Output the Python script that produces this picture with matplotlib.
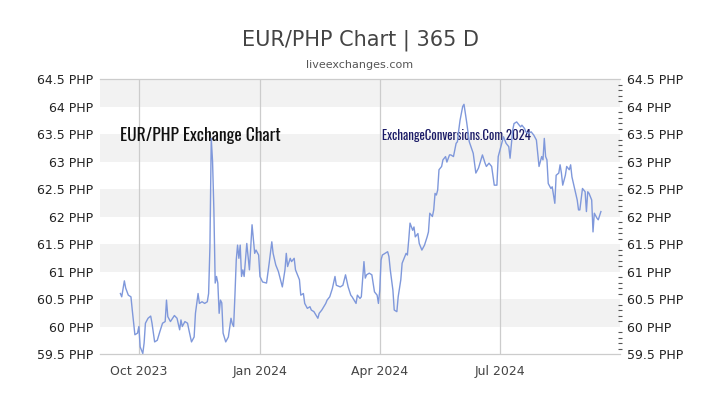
import matplotlib
matplotlib.use("Agg")
import matplotlib.pyplot as plt
from matplotlib.ticker import MultipleLocator
import pandas as pd

# --- data -------------------------------------------------------------
start_date = "2023-10-01"
day_offsets = [-14,-13,-11,-10,-8,-6,-5,-3,-1,0,1,3,4,5,7,9,10,12,14,16,18,20,21,22,24,27,29,31,32,33,35,37,38,40,42,43,45,46,48,50,52,53,54,55,56,57,58,59,60,61,62,63,64,66,68,70,71,72,73,74,75,76,77,78,79,80,82,84,85,86,88,89,91,92,94,97,99,101,102,104,106,109,111,112,113,115,116,118,119,122,123,125,126,128,130,131,133,136,137,139,142,143,145,147,149,150,153,155,157,159,161,162,163,165,166,168,169,171,172,173,175,177,178,179,181,182,183,184,185,187,189,190,191,193,194,196,197,199,200,202,203,204,205,206,208,209,210,212,213,215,217,219,220,221,223,224,225,226,227,228,230,231,233,234,236,237,239,241,242,243,244,246,247,249,250,251,254,256,258,261,263,264,266,268,270,272,273,275,277,279,281,282,284,285,287,288,290,291,293,294,296,298,300,302,303,304,306,307,308,309,310,311,313,314,316,317,319,320,321,322,324,325,327,328,329,331,333,334,335,337,339,340,341,342,344,345,346,348,349,351]
rates = [60.60,60.54,60.83,60.70,60.57,60.54,60.30,59.85,59.88,60.00,59.63,59.51,59.70,60.06,60.15,60.19,60.06,59.72,59.75,59.91,60.06,60.09,60.48,60.18,60.09,60.20,60.15,59.94,60.12,60.00,60.09,60.06,59.94,59.72,59.81,60.24,60.60,60.42,60.45,60.42,60.45,60.60,61.45,63.42,63.00,62.12,60.79,60.91,60.79,60.24,60.48,60.43,59.88,59.72,59.81,60.15,60.05,60.00,60.57,61.21,61.48,61.24,61.48,60.91,61.03,60.91,61.51,61.03,61.45,61.85,61.33,61.39,61.30,60.91,60.81,60.79,61.15,61.54,61.33,61.12,61.00,60.72,61.03,61.33,61.09,61.24,61.18,61.24,61.03,60.85,60.57,60.60,60.42,60.33,60.36,60.30,60.27,60.15,60.24,60.30,60.42,60.48,60.54,60.69,60.91,60.75,60.72,60.75,60.94,60.72,60.57,60.54,60.50,60.42,60.57,60.51,60.54,61.18,60.88,60.94,60.97,60.94,60.79,60.63,60.57,60.42,60.66,61.21,61.30,61.33,61.36,61.27,61.03,60.66,60.30,60.27,60.54,60.85,61.15,61.27,61.33,61.30,61.57,61.88,61.75,61.81,61.63,61.69,61.51,61.39,61.48,61.63,61.72,62.06,62.00,62.12,62.42,62.39,62.48,62.85,62.91,63.03,63.09,62.99,63.12,63.12,63.09,63.33,63.36,63.57,63.75,64.00,64.04,63.72,63.54,63.36,63.15,62.79,62.88,63.12,62.97,62.91,62.97,62.91,62.57,62.57,63.09,63.27,63.45,63.33,63.27,63.06,63.57,63.69,63.72,63.69,63.63,63.66,63.60,63.54,63.51,63.54,63.48,63.39,63.15,62.91,63.09,63.03,63.42,63.09,63.03,62.60,62.51,62.54,62.24,62.75,62.79,62.94,62.79,62.57,62.75,62.91,62.85,62.94,62.72,62.51,62.30,62.12,62.12,62.51,62.45,62.09,62.45,62.42,62.30,61.72,62.06,61.97,61.94,62.09]

x_ticks = ["2023-10-01", "2024-01-01", "2024-04-01", "2024-07-01"]
x_tick_labels = ["Oct 2023", "Jan 2024", "Apr 2024", "Jul 2024"]
y_ticks = [59.5, 60.0, 60.5, 61.0, 61.5, 62.0, 62.5, 63.0, 63.5, 64.0, 64.5]
y_tick_labels = ["59.5 PHP", "60 PHP", "60.5 PHP", "61 PHP", "61.5 PHP", "62 PHP",
                 "62.5 PHP", "63 PHP", "63.5 PHP", "64 PHP", "64.5 PHP"]
shaded_bands = [(60.0, 60.5), (61.0, 61.5), (62.0, 62.5), (63.0, 63.5), (64.0, 64.5)]

title = "EUR/PHP Chart | 365 D"
subtitle = "liveexchanges.com"
watermark_left = "EUR/PHP Exchange Chart"
watermark_right = "ExchangeConversions.Com 2024"

condensed = ["Oswald", "Fjalla One", "Roboto Condensed", "Barlow Condensed", "DejaVu Sans"]

# --- figure -----------------------------------------------------------
dates = pd.Timestamp(start_date) + pd.to_timedelta(day_offsets, unit="D")

fig = plt.figure(figsize=(7.2, 4.05), dpi=100)
ax = fig.add_axes([0.1389, 0.1259, 0.7222, 0.679])

for lo, hi in shaded_bands:
    ax.axhspan(lo, hi, color="#f2f2f2", zorder=0, lw=0)

for t in x_ticks:
    ax.axvline(pd.Timestamp(t), color="#cccccc", lw=0.9, zorder=1)

ax.plot(dates, rates, color="#7f98db", lw=1.0, zorder=3)

ax.set_xlim(pd.Timestamp("2023-09-01 12:00"), pd.Timestamp("2024-09-30 12:00"))
ax.set_ylim(59.5, 64.5)

ax.set_xticks([pd.Timestamp(t) for t in x_ticks])
ax.set_xticklabels(x_tick_labels)
ax.set_yticks(y_ticks)
ax.set_yticklabels(y_tick_labels)
ax.tick_params(axis="x", length=0, pad=8, labelsize=9, labelcolor="#444444")
ax.tick_params(axis="y", length=0, pad=5, labelsize=9, labelcolor="#222222",
               left=False, right=False, labelleft=True, labelright=True)
ax.yaxis.set_minor_locator(MultipleLocator(0.1))
ax.tick_params(axis="y", which="minor", right=True, left=False, direction="inout",
               length=3, width=0.8, color="#555555")

for s in ["left", "right"]:
    ax.spines[s].set_visible(False)
for s in ["top", "bottom"]:
    ax.spines[s].set_color("#cccccc")
    ax.spines[s].set_linewidth(0.9)

fig.text(0.5, 0.900, title, ha="center", va="center", fontsize=15, color="#444444")
fig.text(0.5, 0.840, subtitle, ha="center", va="center", fontsize=8, color="#555555")

ax.text(0.038, 0.795, watermark_left, transform=ax.transAxes, ha="left", va="center",
        fontsize=12.6, color="#111111", family=condensed, zorder=2)
ax.text(0.542, 0.795, watermark_right, transform=ax.transAxes, ha="left", va="center",
        fontsize=9.2, color="#1a1a66", family=condensed, zorder=2)

fig.savefig("out.png", dpi=100)
